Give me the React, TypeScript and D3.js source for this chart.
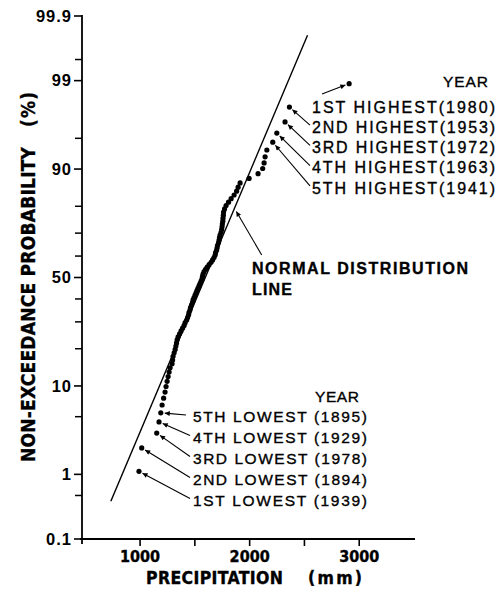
import React from 'react';
import * as d3 from 'd3';

const W = 497;
const H = 603;

// annual precipitation (mm), ranked from lowest to highest, 90 years
const precip = [
  990, 1015, 1152, 1173, 1189, 1201, 1215, 1228, 1237, 1247,
  1256, 1265, 1274, 1292, 1297, 1301, 1311, 1320, 1327, 1333,
  1338, 1347, 1361, 1374, 1388, 1402, 1411, 1425, 1434, 1443,
  1447, 1456, 1461, 1470, 1479, 1484, 1493, 1502, 1511, 1520,
  1529, 1539, 1548, 1557, 1566, 1570, 1575, 1584, 1598, 1612,
  1630, 1648, 1662, 1675, 1685, 1689, 1698, 1703, 1707, 1716,
  1721, 1725, 1730, 1739, 1745, 1748, 1751, 1755, 1757, 1760,
  1762, 1771, 1785, 1807, 1831, 1858, 1881, 1895, 1913, 1995,
  2077, 2119, 2132, 2141, 2157, 2211, 2248, 2323, 2363, 2908,
];

const yTicksMajor = [0.1, 1, 10, 50, 90, 99, 99.9];
const yTickLabels = ['0.1', '1', '10', '50', '90', '99', '99.9'];
const yTicksMinor = [0.5, 5, 20, 30, 40, 60, 70, 80, 95, 99.5];
const xTicks = [1000, 2000, 3000];
const xTicksMinor = [1500, 2500];

// fitted normal distribution line
const normalMean = 1595;
const normalSd = 326;
const normalExtent = [0.41, 99.79]; // percent

const highLabels = [
  '1ST HIGHEST(1980)',
  '2ND HIGHEST(1953)',
  '3RD HIGHEST(1972)',
  '4TH HIGHEST(1963)',
  '5TH HIGHEST(1941)',
];
const lowLabels = [
  '1ST LOWEST (1939)',
  '2ND LOWEST (1894)',
  '3RD LOWEST (1978)',
  '4TH LOWEST (1929)',
  '5TH LOWEST (1895)',
];

// inverse standard normal CDF (Acklam)
function probit(p: number): number {
  const a = [-39.69683028665376, 220.9460984245205, -275.9285104469687, 138.357751867269, -30.66479806614716, 2.506628277459239];
  const b = [-54.47609879822406, 161.5858368580409, -155.6989798598866, 66.80131188771972, -13.28068155288572];
  const c = [-0.007784894002430293, -0.3223964580411365, -2.400758277161838, -2.549671627475832, 4.374664141464968, 2.938163982698783];
  const d = [0.007784695709041462, 0.3224671290700398, 2.445134137142996, 3.754408661907416];
  const pl = 0.02425;
  if (p < pl) {
    const q = Math.sqrt(-2 * Math.log(p));
    return (((((c[0] * q + c[1]) * q + c[2]) * q + c[3]) * q + c[4]) * q + c[5]) /
      ((((d[0] * q + d[1]) * q + d[2]) * q + d[3]) * q + 1);
  }
  if (p > 1 - pl) {
    const q = Math.sqrt(-2 * Math.log(1 - p));
    return -(((((c[0] * q + c[1]) * q + c[2]) * q + c[3]) * q + c[4]) * q + c[5]) /
      ((((d[0] * q + d[1]) * q + d[2]) * q + d[3]) * q + 1);
  }
  const q = p - 0.5;
  const r = q * q;
  return (((((a[0] * r + a[1]) * r + a[2]) * r + a[3]) * r + a[4]) * r + a[5]) * q /
    (((((b[0] * r + b[1]) * r + b[2]) * r + b[3]) * r + b[4]) * r + 1);
}

const condensed = "'DejaVu Sans Condensed', 'DejaVu Sans', sans-serif";
const helv = "'Liberation Sans', Arial, sans-serif";
// scanned-print look: slightly heavier regular text
const ink = { stroke: '#000', strokeWidth: 0.35 };

const App = () => {
  const x = d3.scaleLinear().domain([470, 3500]).range([82, 414]);
  const z = d3.scaleLinear().domain([probit(0.001), probit(0.999)]).range([539, 16]);
  const y = (pct: number) => z(probit(pct / 100));

  const n = precip.length;
  const pts = precip.map((v, i) => ({ cx: x(v), cy: y(((i + 1) / (n + 1)) * 100) }));

  const line = d3.line<number>()
    .x(p => x(normalMean + normalSd * probit(p / 100)))
    .y(p => y(p));

  const head = (tx: number, ty: number, px: number, py: number, gap: number) => {
    const dx = tx - px, dy = ty - py;
    const len = Math.hypot(dx, dy);
    return [px + (dx / len) * gap, py + (dy / len) * gap];
  };

  // highest annotation rows
  const highRow = (k: number) => 107 + k * 20.2;
  const highTails = highLabels.map((_, k) => (k === 0 ? [322, 94] : [310, highRow(k) - 2]));
  // lowest annotation rows
  const lowRow = (k: number) => 500 - k * 21;
  const lowTails = lowLabels.map((_, k) => (k === 4 ? [186, lowRow(k) - 1] : [190, lowRow(k) - 1.5]));

  // arrow into the normal line
  const nlPct = 78.4;
  const nlx = x(normalMean + normalSd * probit(nlPct / 100));
  const nly = y(nlPct);

  return (
    <svg width={W} height={H} style={{ position: 'absolute', left: 0, top: 0, background: '#fff' }}>
      <defs>
        <marker id="ah" viewBox="0 0 10 10" refX="10" refY="5" markerWidth="7" markerHeight="5"
          markerUnits="userSpaceOnUse" orient="auto">
          <path d="M0,0 L10,5 L0,10 z" fill="#000" />
        </marker>
      </defs>

      {/* axes */}
      <line x1={82} x2={82} y1={15} y2={544} stroke="#000" strokeWidth={1.8} />
      <line x1={80} x2={415} y1={539} y2={539} stroke="#000" strokeWidth={1.8} />
      {yTicksMajor.map(t => (
        <line key={'ym' + t} x1={74} x2={82} y1={y(t)} y2={y(t)} stroke="#000" strokeWidth={1.6} />
      ))}
      {yTicksMinor.map(t => (
        <line key={'yn' + t} x1={75} x2={82} y1={y(t)} y2={y(t)} stroke="#000" strokeWidth={1.5} />
      ))}
      {yTicksMajor.map((t, i) => (
        <text key={'yl' + t} x={72} y={y(t) + 5.8} textAnchor="end" fontFamily={helv} fontWeight="bold"
          fontSize={16.5} letterSpacing={1}>{yTickLabels[i]}</text>
      ))}
      {[...xTicks, ...xTicksMinor].map(t => (
        <line key={'xt' + t} x1={x(t)} x2={x(t)} y1={539} y2={546} stroke="#000" strokeWidth={1.6} />
      ))}
      {xTicks.map(t => (
        <text key={'xl' + t} x={x(t)} y={562} textAnchor="middle" fontFamily={condensed} fontStretch="condensed"
          fontWeight="bold" fontSize={16} {...ink}>{t}</text>
      ))}

      {/* axis titles */}
      <text x={146} y={583.5} fontFamily={condensed} fontStretch="condensed" fontWeight="bold" fontSize={17.5}
        textLength={137} lengthAdjust="spacing" {...ink}>PRECIPITATION</text>
      <text x={308} y={583.5} fontFamily={condensed} fontStretch="condensed" fontWeight="bold" fontSize={17.5}
        textLength={54} lengthAdjust="spacing" {...ink}>(mm)</text>
      <g transform="translate(35,462) rotate(-90)">
        <text x={0} y={0} fontFamily={condensed} fontStretch="condensed" fontWeight="bold" fontSize={19}
          textLength={315} lengthAdjust="spacing" {...ink}>NON-EXCEEDANCE PROBABILITY</text>
        <text x={335} y={0} fontFamily={condensed} fontStretch="condensed" fontWeight="bold" fontSize={19}
          textLength={35} lengthAdjust="spacing" {...ink}>(%)</text>
      </g>

      {/* normal distribution line */}
      <path d={line(normalExtent) || ''} fill="none" stroke="#000" strokeWidth={1.4} />

      {/* observations */}
      {pts.map((p, i) => (
        <circle key={i} cx={p.cx} cy={p.cy} r={2.6} fill="#000" />
      ))}

      {/* normal line label */}
      <line x1={261.7} y1={255} x2={nlx + 3} y2={nly + 0.5} stroke="#000" strokeWidth={1.1} markerEnd="url(#ah)" />
      <text x={252} y={273.5} fontFamily={helv} fontWeight="bold" fontSize={16} textLength={216}
        lengthAdjust="spacing" {...ink}>NORMAL DISTRIBUTION</text>
      <text x={252} y={295} fontFamily={helv} fontWeight="bold" fontSize={16} textLength={40}
        lengthAdjust="spacing" {...ink}>LINE</text>

      {/* highest years */}
      <text x={443} y={87} fontFamily={helv} fontSize={15.5} textLength={45} lengthAdjust="spacing" {...ink}>YEAR</text>
      {highLabels.map((lab, k) => {
        const p = pts[n - 1 - k];
        const [tx, ty] = highTails[k];
        const [hx, hy] = head(tx, ty, p.cx, p.cy, 4);
        return (
          <g key={'h' + k}>
            <line x1={tx} y1={ty} x2={hx} y2={hy} stroke="#000" strokeWidth={1.1} markerEnd="url(#ah)" />
            <text x={312} y={highRow(k) + 5.8} fontFamily={helv} fontSize={16} textLength={183}
              lengthAdjust="spacing" {...ink}>{lab}</text>
          </g>
        );
      })}

      {/* lowest years */}
      <text x={315} y={402} fontFamily={helv} fontSize={15.5} textLength={44} lengthAdjust="spacing" {...ink}>YEAR</text>
      {lowLabels.map((lab, k) => {
        const p = pts[k];
        const [tx, ty] = lowTails[k];
        const [hx, hy] = head(tx, ty, p.cx, p.cy, 4);
        return (
          <g key={'l' + k}>
            <line x1={tx} y1={ty} x2={hx} y2={hy} stroke="#000" strokeWidth={1.1} markerEnd="url(#ah)" />
            <text x={193} y={lowRow(k) + 5.5} fontFamily={helv} fontSize={15.5} textLength={174}
              lengthAdjust="spacing" {...ink}>{lab}</text>
          </g>
        );
      })}
    </svg>
  );
};

export default App;
